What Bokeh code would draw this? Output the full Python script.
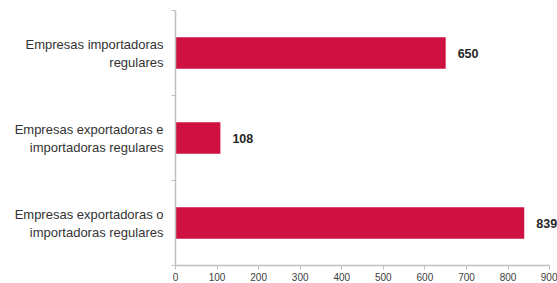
from bokeh.plotting import figure
from bokeh.models import FixedTicker, Range1d, ColumnDataSource, LabelSet
from bokeh.embed import file_html
from bokeh.resources import INLINE
from bokeh.core.properties import value

categories = [
    "Empresas exportadoras o\nimportadoras regulares",
    "Empresas exportadoras e\nimportadoras regulares",
    "Empresas importadoras\nregulares",
]
counts = [839, 108, 650]
x_ticks = [0, 100, 200, 300, 400, 500, 600, 700, 800, 900]

pos = [i + 0.5 for i in range(len(categories))]
src = ColumnDataSource(dict(y=pos, v=counts, lab=[str(c) for c in counts]))

p = figure(width=557, height=283, output_backend="svg", toolbar_location=None,
           x_range=Range1d(0, 919), y_range=Range1d(0, 3),
           min_border_left=175, min_border_right=0, min_border_top=10, min_border_bottom=15)
p.outline_line_color = None
p.xgrid.visible = False
p.ygrid.visible = False

p.hbar(y="y", right="v", left=0, height=0.37, source=src, color="#CE1141", line_color=None)
labels = LabelSet(x="v", y="y", text="lab", source=src, x_offset=12, text_baseline="middle",
                  text_font=value("Liberation Sans"), text_font_style="bold",
                  text_font_size=value("12.5px"), text_color="#262626")
p.add_layout(labels)

ya = p.yaxis[0]
ya.ticker = FixedTicker(ticks=pos, minor_ticks=[0, 1, 2, 3])
ya.major_label_overrides = {pp: c for pp, c in zip(pos, categories)}
ya.major_tick_out = 0
ya.major_tick_in = 0
ya.minor_tick_out = 4
ya.minor_tick_in = 0
ya.minor_tick_line_color = "#BFBFBF"
ya.axis_line_color = "#BFBFBF"
ya.axis_line_width = 1.5
ya.major_label_standoff = 8
ya.major_label_text_font = "Liberation Sans"
ya.major_label_text_font_size = "13px"
ya.major_label_text_color = "#333333"

xa = p.xaxis[0]
xa.ticker = FixedTicker(ticks=x_ticks)
xa.bounds = (0, 900)
xa.major_tick_out = 4
xa.major_tick_in = 0
xa.minor_tick_out = 0
xa.minor_tick_in = 0
xa.major_tick_line_color = "#BFBFBF"
xa.axis_line_color = "#BFBFBF"
xa.axis_line_width = 1.5
xa.major_label_standoff = 3
xa.major_label_text_font = "Liberation Sans"
xa.major_label_text_font_size = "10px"
xa.major_label_text_color = "#404040"

open("out.html", "w").write(file_html(p, INLINE))
